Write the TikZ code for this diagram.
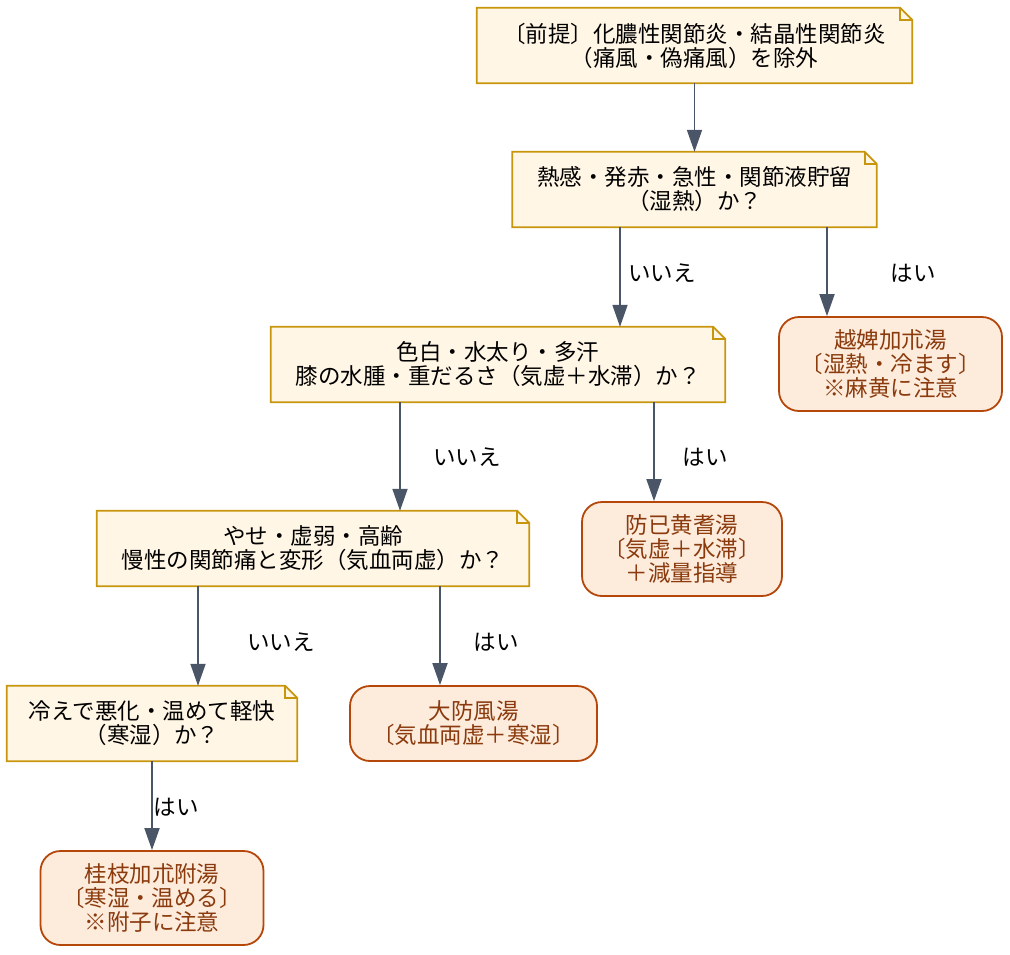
\documentclass[tikz,border=0pt]{standalone}
\usepackage{fontspec}
\setmainfont{Noto Sans CJK JP}
\usetikzlibrary{arrows.meta,backgrounds}
\definecolor{notefill}{HTML}{FFF6E5}
\definecolor{notedraw}{HTML}{C8960C}
\definecolor{resfill}{HTML}{FDEBDC}
\definecolor{resdraw}{HTML}{B5470B}
\definecolor{restext}{HTML}{8A3A0C}
\definecolor{edgecol}{HTML}{4A5568}
\newcommand\drawnote[1]{%
  \filldraw[fill=notefill, draw=notedraw, line width=1.8pt, line join=miter]
    (#1.north west) -- ([xshift=-12pt]#1.north east) -- ([yshift=-12pt]#1.north east)
    -- (#1.south east) -- (#1.south west) -- cycle;
  \draw[draw=notedraw, line width=1.8pt]
    ([xshift=-12pt]#1.north east) |- ([yshift=-12pt]#1.north east);}
\tikzset{
  txt/.style={font=\fontsize{22.5}{24}\selectfont},
  qbox/.style={txt, inner sep=0pt, align=center},
  rbox/.style={txt, inner sep=0pt, align=center, rounded corners=20pt,
    draw=resdraw, fill=resfill, line width=1.8pt, text=restext},
  link/.style={draw=edgecol, line width=1.8pt, -{Triangle[width=15pt,length=22pt]}},
  lbl/.style={txt, inner sep=0pt, text=black}
}
\begin{document}
\begin{tikzpicture}[x=1pt,y=-1pt]
\useasboundingbox (0,0) rectangle (1010,954);
% question nodes
\node[qbox, minimum width=435pt, minimum height=75pt] (n1) at (694.5,45.5)
  {〔前提〕化膿性関節炎・結晶性関節炎\\（痛風・偽痛風）を除外};
\node[qbox, minimum width=364pt, minimum height=75pt] (n2) at (694.5,189.5)
  {熱感・発赤・急性・関節液貯留\\（湿熱）か？};
\node[qbox, minimum width=454pt, minimum height=75pt] (n3) at (498,364.5)
  {色白・水太り・多汗\\膝の水腫・重だるさ（気虚＋水滞）か？};
\node[qbox, minimum width=432pt, minimum height=75pt] (n4) at (313,548.5)
  {やせ・虚弱・高齢\\慢性の関節痛と変形（気血両虚）か？};
\node[qbox, minimum width=290pt, minimum height=75pt] (n5) at (152,723.5)
  {冷えで悪化・温めて軽快\\（寒湿）か？};
\begin{scope}[on background layer]
  \drawnote{n1}\drawnote{n2}\drawnote{n3}\drawnote{n4}\drawnote{n5}
\end{scope}
% result nodes
\node[rbox, minimum width=223pt, minimum height=94pt] (y1) at (890.5,364)
  {越婢加朮湯\\〔湿熱・冷ます〕\\※麻黄に注意};
\node[rbox, minimum width=200pt, minimum height=94pt] (p2) at (682,549)
  {防已黄耆湯\\〔気虚＋水滞〕\\＋減量指導};
\node[rbox, minimum width=247pt, minimum height=75pt] (p3) at (473.5,723.5)
  {大防風湯\\〔気血両虚＋寒湿〕};
\node[rbox, minimum width=223pt, minimum height=94pt] (p4) at (152,898)
  {桂枝加朮附湯\\〔寒湿・温める〕\\※附子に注意};
% connectors
\draw[link] (n1.south) -- (n2.north);
\draw[link] ([xshift=-74.5pt]n2.south) -- ([xshift=122pt]n3.north);
\draw[link] ([xshift=132.5pt]n2.south) -- ([xshift=-63.5pt]y1.north);
\draw[link] ([xshift=-98pt]n3.south) -- ([xshift=87pt]n4.north);
\draw[link] ([xshift=156pt]n3.south) -- ([xshift=-28pt]p2.north);
\draw[link] ([xshift=-115pt]n4.south) -- ([xshift=46pt]n5.north);
\draw[link] ([xshift=127pt]n4.south) -- ([xshift=-33.5pt]p3.north);
\draw[link] (n5.south) -- (p4.north);
% labels
\node[lbl] (l1) at (662,273) {いいえ};
\node[lbl] (l2) at (913,273) {はい};
\node[lbl] (l3) at (467,457) {いいえ};
\node[lbl] (l4) at (705,457) {はい};
\node[lbl] (l5) at (281,642) {いいえ};
\node[lbl] (l6) at (496,642) {はい};
\node[lbl] (l7) at (176,807) {はい};
\end{tikzpicture}
\end{document}
